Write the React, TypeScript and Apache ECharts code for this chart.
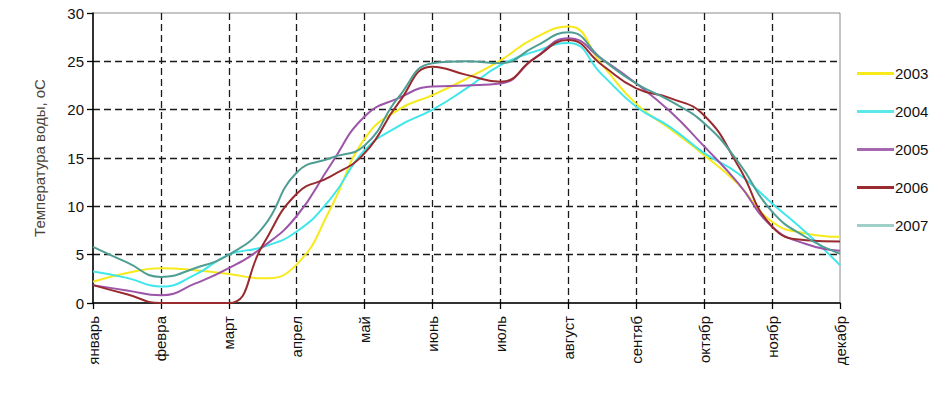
import React, { useEffect, useRef } from "react";
import * as echarts from "echarts";

const months = ["январь", "февра", "март", "апрел", "май", "июнь", "июль", "август", "сентяб", "октябр", "ноябр", "декабр"];
const yTicks = [0, 5, 10, 15, 20, 25, 30];
const years = ["2003", "2004", "2005", "2006", "2007"];
// sample positions in month units (0 = январь, 11 = декабр)
const samplePos = [0, 0.5, 1, 1.5, 2, 2.5, 3, 3.5, 4, 4.5, 5, 5.5, 6, 6.5, 7, 7.5, 8, 8.5, 9, 9.5, 10, 10.5, 11];

const t2003 = [2.2, 3.1, 3.6, 3.4, 3.0, 2.55, 4.0, 9.8, 17.0, 20.0, 21.5, 23.2, 25.1, 27.4, 28.6, 24.6, 20.6, 18.0, 15.3, 12.3, 8.4, 7.2, 6.85];
const t2004 = [3.25, 2.6, 1.7, 2.9, 5.0, 5.8, 7.4, 10.8, 15.8, 18.3, 20.0, 22.2, 24.6, 26.0, 26.9, 23.6, 20.3, 18.2, 15.5, 13.4, 10.3, 7.3, 3.9];
const t2005 = [1.85, 1.3, 0.8, 2.0, 3.6, 5.8, 9.0, 14.3, 19.3, 21.2, 22.4, 22.5, 22.7, 25.3, 27.4, 25.2, 22.7, 19.8, 16.2, 12.4, 7.9, 6.1, 5.4];
const t2006 = [1.85, 0.9, 0, 0, 0, 6.0, 11.3, 13.1, 15.5, 20.7, 24.45, 23.6, 22.9, 25.3, 27.2, 24.6, 22.2, 21.2, 19.4, 14.2, 7.9, 6.5, 6.35];
const t2007 = [5.8, 4.2, 2.7, 3.6, 5.0, 7.8, 13.5, 15.0, 16.3, 21.3, 24.8, 25.0, 24.8, 26.5, 28.0, 25.2, 22.7, 20.9, 18.6, 14.6, 9.45, 6.8, 5.1];

const seriesValues = [t2003, t2004, t2005, t2006, t2007];
const colors = ["#f7ea1a", "#3fe6ea", "#9c55a8", "#992b2e", "#4f9e94"];
const legendColors = ["#f7ea1a", "#5ae8ea", "#a768b2", "#992b2e", "#9fcfc7"];

const FONT = "'Liberation Sans', Arial, sans-serif";

export default function App() {
  const ref = useRef<HTMLDivElement>(null);
  useEffect(() => {
    if (!ref.current) return;
    const chart = echarts.init(ref.current, undefined, { renderer: "svg" });
    const gridLine = {
      show: true,
      showMinLine: false,
      showMaxLine: false,
      lineStyle: { color: "#1a1a1a", width: 1.3, type: [7, 4] as any },
    };
    chart.setOption({
      animation: false,
      backgroundColor: "#ffffff",
      textStyle: { fontFamily: FONT },
      grid: {
        left: 93,
        right: 100,
        top: 13,
        bottom: 102,
        show: true,
        borderColor: "#8a8a8a",
        borderWidth: 1,
        backgroundColor: "transparent",
      },
      legend: {
        orient: "vertical",
        left: 852,
        top: 61,
        itemWidth: 37,
        itemHeight: 3,
        itemGap: 23,
        icon: "rect",
        data: years.map((y, i) => ({
          name: y,
          itemStyle: { color: legendColors[i] },
        })),
        textStyle: { fontSize: 15, color: "#111", fontFamily: FONT, padding: [0, 0, 0, -4] },
      },
      xAxis: {
        type: "value",
        min: 0,
        max: months.length - 1,
        interval: 1,
        axisLine: { show: true, onZero: false, lineStyle: { color: "#000", width: 1.5 } },
        axisTick: { show: true, length: 6, lineStyle: { color: "#000", width: 1.3 } },
        axisLabel: {
          rotate: 90,
          margin: 13,
          fontSize: 15,
          color: "#111",
          fontFamily: FONT,
          formatter: (v: number) => months[Math.round(v)] ?? "",
        },
        splitLine: gridLine,
      },
      yAxis: {
        type: "value",
        min: yTicks[0],
        max: yTicks[yTicks.length - 1],
        interval: 5,
        name: "Температура воды, оС",
        nameLocation: "middle",
        nameGap: 46,
        nameTextStyle: { fontSize: 15, color: "#4a4336", fontFamily: FONT },
        axisLine: { show: true, lineStyle: { color: "#000", width: 1.5 } },
        axisTick: { show: true, length: 6, lineStyle: { color: "#000", width: 1.3 } },
        axisLabel: { margin: 9, fontSize: 15, color: "#111", fontFamily: FONT },
        splitLine: gridLine,
      },
      series: years.map((y, i) => ({
        name: y,
        type: "line",
        smooth: 0.5,
        symbol: "none",
        showSymbol: false,
        lineStyle: { color: colors[i], width: 2 },
        itemStyle: { color: colors[i] },
        data: samplePos.map((x, j) => [x, seriesValues[i][j]]),
      })),
    });
    return () => chart.dispose();
  }, []);
  return (
    <div
      ref={ref}
      style={{ position: "absolute", left: 0, top: 0, width: 940, height: 405, background: "#fff" }}
    />
  );
}
